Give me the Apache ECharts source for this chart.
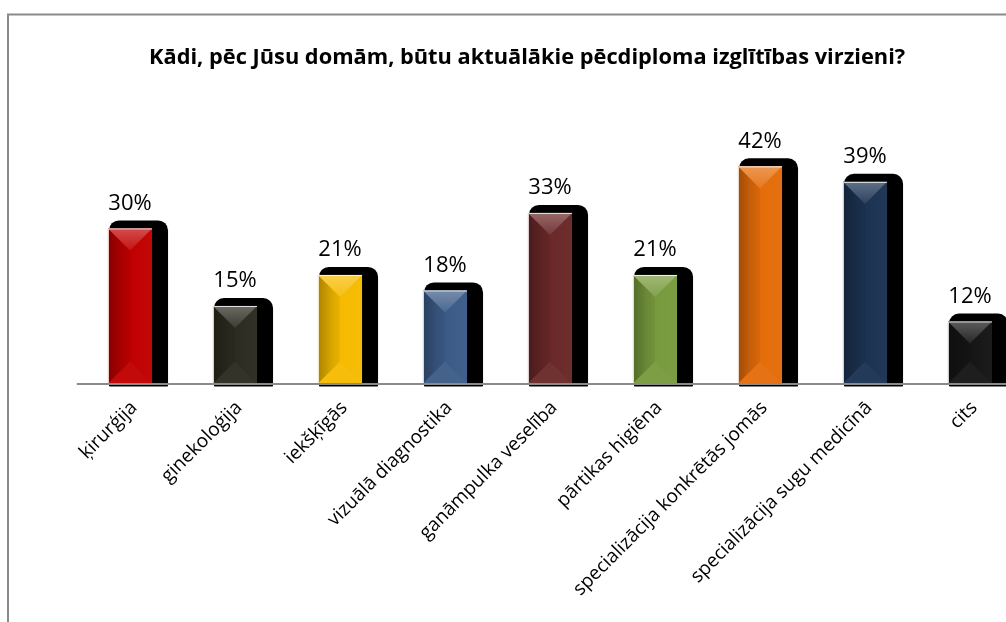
<!DOCTYPE html>
<html>
<head>
<meta charset="utf-8">
<style>
  html, body { margin: 0; padding: 0; background: #ffffff; }
  #chart { width: 1006px; height: 622px; }
</style>
<script src="https://cdn.jsdelivr.net/npm/echarts@6/dist/echarts.min.js"></script>
</head>
<body>
<div id="chart"></div>
<script>
// Survey answers: most relevant postgraduate education directions (share of respondents, %)
const categories = [
  'ķirurģija',
  'ginekoloģija',
  'iekšķīgās',
  'vizuālā diagnostika',
  'ganāmpulka veselība',
  'pārtikas higiēna',
  'specializācija konkrētās jomās',
  'specializācija sugu medicīnā',
  'cits'
];
const shares = [30, 15, 21, 18, 33, 21, 42, 39, 12];

// One fill colour per column
const palette = ['#c00000', '#2c2b20', '#f6bb00', '#3b5b87', '#6a2828', '#789a3d', '#e46c0a', '#1b3252', '#151515'];

function toRgb(hex) {
  const n = parseInt(hex.slice(1), 16);
  return [(n >> 16) & 255, (n >> 8) & 255, n & 255];
}
function mix(hex, target, t) {
  const c = toRgb(hex);
  const r = c.map(v => Math.round(v + (target - v) * t));
  return 'rgb(' + r.join(',') + ')';
}
const darker = (hex, t) => mix(hex, 0, t);
const lighter = (hex, t) => mix(hex, 255, t);

function renderColumn(params, api) {
  const i = api.value(0);
  const v = api.value(1);
  const top = api.coord([i, v]);
  const base = api.coord([i, 0]);
  const band = api.size([1, 0])[0];
  const w = band * 0.42;
  const cx = top[0];
  const x0 = cx - w / 2;
  const x1 = cx + w / 2;
  const y0 = top[1];
  const y1 = base[1];
  const col = palette[i % palette.length];
  const bevel = Math.min(w / 2, (y1 - y0) / 2);

  return {
    type: 'group',
    children: [
      // drop shadow behind the column
      {
        type: 'rect',
        shape: { x: x0 + 1, y: y0 - 8, width: w + 15, height: y1 - y0 + 11, r: [10, 10, 1, 1] },
        style: { fill: '#000000' }
      },
      // column body
      {
        type: 'rect',
        shape: { x: x0, y: y0, width: w, height: y1 - y0 },
        style: {
          fill: {
            type: 'linear', x: 0, y: 0, x2: 1, y2: 0,
            colorStops: [
              { offset: 0, color: darker(col, 0.3) },
              { offset: 0.3, color: darker(col, 0.12) },
              { offset: 0.5, color: darker(col, 0.05) },
              { offset: 0.5, color: col },
              { offset: 1, color: lighter(col, 0.03) }
            ]
          }
        }
      },
      // top bevel facet
      {
        type: 'polygon',
        shape: { points: [[x0, y0], [x1, y0], [cx, y0 + bevel]] },
        style: {
          fill: {
            type: 'linear', x: 0, y: 0, x2: 0, y2: 1,
            colorStops: [
              { offset: 0, color: lighter(col, 0.3) },
              { offset: 1, color: lighter(col, 0.08) }
            ]
          }
        }
      },
      // bottom bevel facet
      {
        type: 'polygon',
        shape: { points: [[x0, y1], [x1, y1], [cx, y1 - bevel]] },
        style: { fill: lighter(col, 0.04) }
      },
      // light edge along top and left side
      {
        type: 'polyline',
        shape: { points: [[x0 + 0.5, y1], [x0 + 0.5, y0 + 0.5], [x1, y0 + 0.5]] },
        style: { stroke: 'rgba(255,255,255,0.85)', lineWidth: 1, fill: null }
      },
      // value label
      {
        type: 'text',
        style: {
          text: v + '%',
          x: cx,
          y: y0 - 14,
          textAlign: 'center',
          textVerticalAlign: 'bottom',
          fontFamily: 'Open Sans',
          fontSize: 22,
          fill: '#000000'
        }
      }
    ]
  };
}

const chart = echarts.init(document.getElementById('chart'), null, { renderer: 'canvas' });
chart.setOption({
  backgroundColor: '#ffffff',
  animation: false,
  title: {
    text: 'Kādi, pēc Jūsu domām, būtu aktuālākie pēcdiploma izglītības virzieni?',
    left: 144,
    top: 42,
    textStyle: { fontFamily: 'Open Sans', fontWeight: 'bold', fontSize: 21.8, color: '#000000' }
  },
  graphic: [
    {
      type: 'rect',
      shape: { x: 8, y: 14.5, width: 1200, height: 800 },
      style: { fill: null, stroke: '#8a8a8a', lineWidth: 2 },
      silent: true
    }
  ],
  grid: {
    left: 77.5, top: 125, width: 945, height: 258.5,
    containLabel: false,
    outerBoundsMode: 'none'
  },
  xAxis: {
    type: 'category',
    data: categories,
    z: 10,
    axisLine: { lineStyle: { color: '#8a8a8a', width: 2 } },
    axisTick: { show: false },
    axisLabel: {
      interval: 0,
      rotate: 45,
      margin: 17,
      verticalAlign: 'top',
      lineHeight: 12,
      fontFamily: 'Open Sans',
      fontSize: 19,
      color: '#000000'
    }
  },
  yAxis: { type: 'value', min: 0, max: 50, show: false, splitLine: { show: false } },
  series: [
    {
      type: 'custom',
      renderItem: renderColumn,
      encode: { x: 0, y: 1 },
      data: shares.map((v, i) => [i, v]),
      clip: false
    }
  ]
});
</script>
</body>
</html>
